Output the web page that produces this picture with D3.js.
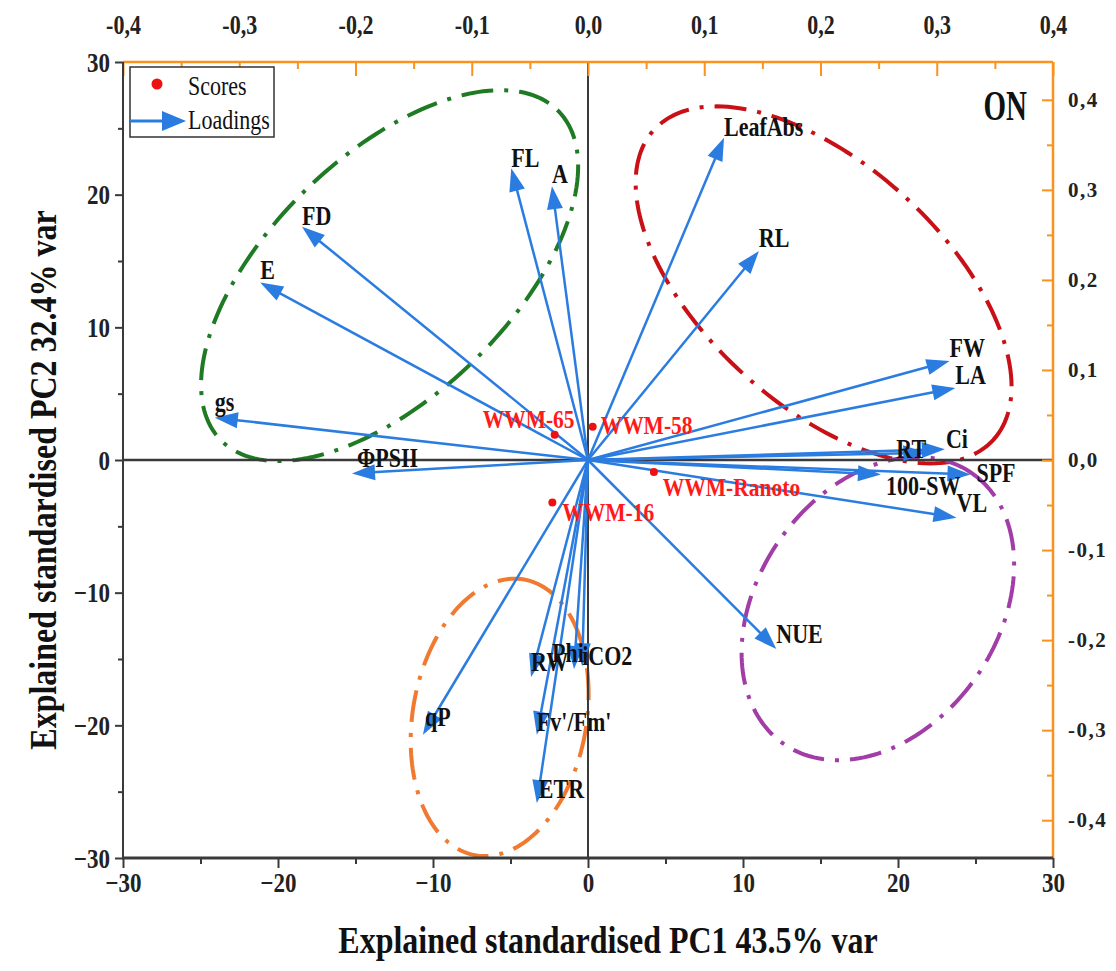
<!DOCTYPE html>
<html>
<head>
<meta charset="utf-8">
<script src="https://cdn.jsdelivr.net/npm/d3@7"></script>
<style>
body { margin: 0; background: #fff; }
svg text { font-family: "Liberation Serif", "Times New Roman", serif; }
.tall { transform-box: fill-box; transform-origin: center; transform: scaleY(1.2); }
.taller { transform-box: fill-box; transform-origin: center; transform: scaleY(1.45); }
</style>
</head>
<body>
<svg id="chart"></svg>
<script>
const width = 1116, height = 971;

// scores (PC1, PC2 in score units)
const scoreNames = ["WWM-65", "WWM-58", "WWM-Ranoto", "WWM-16"];
const scorePC1 = [-2.15, 0.3, 4.25, -2.3];
const scorePC2 = [1.9, 2.5, -0.9, -3.2];
const scoreLabelDx = [-72, 8, 9, 10];
const scoreLabelDy = [-8, 6, 23, 17];

// loadings (PC1, PC2 in loading units)
const loadNames = ["LeafAbs", "RL", "FL", "A", "FD", "E", "gs", "ΦPSII", "FW", "LA", "Ci", "RT",
                   "SPF", "100-SW", "VL", "NUE", "qP", "RW", "Phi", "iCO2", "Fv'/Fm'", "ETR"];
const loadPC1 = [0.117, 0.147, -0.066, -0.031, -0.246, -0.282, -0.321, -0.203, 0.311, 0.316, 0.307, 0.291,
                 0.329, 0.252, 0.317, 0.162, -0.142, -0.049, -0.012, -0.005, -0.044, -0.044];
const loadPC2 = [0.358, 0.232, 0.324, 0.304, 0.259, 0.197, 0.047, -0.015, 0.110, 0.080, 0.012, 0.008,
                 -0.016, -0.016, -0.064, -0.210, -0.305, -0.241, -0.232, -0.229, -0.305, -0.381];
const loadLabelDx = [0, 0, 0, 0, 0, 0, 0, 5, 0, 0, 1, -30, 6, 5, 0, 0, 2, 0, -22, 0, 0, 2];
const loadLabelDy = [-3, -6, -3, -5, -3, -5, -8, -8, -5, -5, -3, 4, 6, 19, -7, -8, -10, -8, -8, -3, -5, -7];

// group ellipses: centre and two conjugate semi-axes (score units)
const ellipseCx = [-12.8, 15.2, 18.7, -5.7];
const ellipseCy = [13.9, 13.2, -11.2, -19.4];
const ellipseU = [[10.91, 12.38], [10.95, -11.68], [6.1, 10.18], [1.57, 10.39]];
const ellipseV = [[5.38, -6.49], [5.21, 6.68], [6.33, -5.19], [5.52, -1.14]];
const ellipseColors = ["#1f7a24", "#c81016", "#a23ca6", "#f07a30"];

// ticks
const scoreTicks = [-30, -20, -10, 0, 10, 20, 30];
const scoreMinor = [-25, -15, -5, 5, 15, 25];
const loadTicks = [-0.4, -0.3, -0.2, -0.1, 0, 0.1, 0.2, 0.3, 0.4];
const loadMinor = [-0.35, -0.25, -0.15, -0.05, 0.05, 0.15, 0.25, 0.35];

const blue = "#2b7ce0";
const orange = "#f7931e";
const dark = "#3a3a3a";

let svg = d3.select("#chart")
  .attr("width", width)
  .attr("height", height);

const x = d3.scaleLinear().domain([-30, 30]).range([123, 1053]);
const y = d3.scaleLinear().domain([-30, 30]).range([858, 62]);
const xL = d3.scaleLinear().domain([-0.4, 0.4]).range([123, 1053]);
const yL = d3.scaleLinear().domain([-0.442, 0.442]).range([858, 62]);

const comma = d => d3.format(".1f")(d).replace(".", ",").replace("−", "-");

// ellipses
const ell = d3.line().curve(d3.curveLinearClosed);
ellipseCx.forEach((cx, i) => {
  const pts = d3.range(0, 2 * Math.PI, Math.PI / 90).map(t => [
    x(cx + ellipseU[i][0] * Math.cos(t) + ellipseV[i][0] * Math.sin(t)),
    y(ellipseCy[i] + ellipseU[i][1] * Math.cos(t) + ellipseV[i][1] * Math.sin(t))
  ]);
  svg.append("path")
    .attr("d", ell(pts))
    .attr("fill", "none")
    .attr("stroke", ellipseColors[i])
    .attr("stroke-width", 4)
    .attr("stroke-dasharray", "32 11 4 11");
});

// zero lines
svg.append("line")
  .attr("x1", x(-30)).attr("x2", x(30)).attr("y1", y(0)).attr("y2", y(0))
  .attr("stroke", dark).attr("stroke-width", 2.5);
svg.append("line")
  .attr("x1", x(0)).attr("x2", x(0)).attr("y1", y(30)).attr("y2", y(-30))
  .attr("stroke", dark).attr("stroke-width", 2);

// loading arrows
function arrow(g, x1, y1, x2, y2, len, half, sw) {
  const dx = x2 - x1, dy = y2 - y1, d = Math.hypot(dx, dy);
  const ux = dx / d, uy = dy / d;
  const bx = x2 - ux * len, by = y2 - uy * len;
  g.append("line")
    .attr("x1", x1).attr("y1", y1).attr("x2", bx + ux * 3).attr("y2", by + uy * 3)
    .attr("stroke", blue).attr("stroke-width", sw);
  g.append("polygon")
    .attr("points", [[x2, y2], [bx - uy * half, by + ux * half], [bx + uy * half, by - ux * half]].join(" "))
    .attr("fill", blue);
}

const arrows = svg.append("g");
loadNames.forEach((n, i) => {
  arrow(arrows, xL(0), yL(0), xL(loadPC1[i]), yL(loadPC2[i]), 23, 8, 2.5);
});

svg.append("g").selectAll("text")
  .data(loadNames)
  .join("text")
  .attr("class", "tall")
  .attr("x", (d, i) => xL(loadPC1[i]) + loadLabelDx[i])
  .attr("y", (d, i) => yL(loadPC2[i]) + loadLabelDy[i])
  .attr("font-size", 22)
  .attr("font-weight", "bold")
  .attr("fill", "#111")
  .text(d => d);

// scores
svg.append("g").selectAll("circle")
  .data(scoreNames)
  .join("circle")
  .attr("cx", (d, i) => x(scorePC1[i]))
  .attr("cy", (d, i) => y(scorePC2[i]))
  .attr("r", 4)
  .attr("fill", "#ee1111");

svg.append("g").selectAll("text")
  .data(scoreNames)
  .join("text")
  .attr("class", "tall")
  .attr("x", (d, i) => x(scorePC1[i]) + scoreLabelDx[i])
  .attr("y", (d, i) => y(scorePC2[i]) + scoreLabelDy[i])
  .attr("font-size", 21.5)
  .attr("font-weight", "bold")
  .attr("fill", "#ff1a1a")
  .text(d => d);

// axes
function styleAxis(g, color, size) {
  g.select(".domain").remove();
  g.selectAll(".tick line").attr("stroke", color).attr("stroke-width", 2);
  g.selectAll(".tick text")
    .attr("class", "tall")
    .attr("font-family", "Liberation Serif")
    .attr("font-size", size)
    .attr("font-weight", "bold")
    .attr("fill", "#222");
}

svg.append("g")
  .attr("transform", `translate(0, ${y(-30)})`)
  .call(d3.axisBottom(x).tickValues(scoreTicks).tickSize(10).tickPadding(6).tickFormat(d3.format("d")))
  .call(g => styleAxis(g, dark, 23));
svg.append("g")
  .attr("transform", `translate(0, ${y(-30)})`)
  .call(d3.axisBottom(x).tickValues(scoreMinor).tickSize(6).tickFormat(""))
  .call(g => styleAxis(g, dark, 23));

svg.append("g")
  .attr("transform", `translate(${x(-30)}, 0)`)
  .call(d3.axisLeft(y).tickValues(scoreTicks).tickSize(8).tickPadding(5).tickFormat(d3.format("d")))
  .call(g => styleAxis(g, dark, 23));
svg.append("g")
  .attr("transform", `translate(${x(-30)}, 0)`)
  .call(d3.axisLeft(y).tickValues(scoreMinor).tickSize(5).tickFormat(""))
  .call(g => styleAxis(g, dark, 23));

svg.append("g")
  .attr("transform", `translate(0, ${y(30)})`)
  .call(d3.axisTop(xL).tickValues(loadTicks).tickSizeInner(-14).tickSizeOuter(0).tickPadding(30).tickFormat(comma))
  .call(g => styleAxis(g, orange, 22));
svg.append("g")
  .attr("transform", `translate(0, ${y(30)})`)
  .call(d3.axisTop(xL).tickValues(loadMinor).tickSizeInner(-7).tickSizeOuter(0).tickFormat(""))
  .call(g => styleAxis(g, orange, 22));

svg.append("g")
  .attr("transform", `translate(${x(30)}, 0)`)
  .call(d3.axisRight(yL).tickValues(loadTicks).tickSizeInner(-11).tickSizeOuter(0).tickPadding(15).tickFormat(comma))
  .call(g => styleAxis(g, orange, 21))
  .call(g => g.selectAll(".tick text").attr("class", null).attr("letter-spacing", 1.5));
svg.append("g")
  .attr("transform", `translate(${x(30)}, 0)`)
  .call(d3.axisRight(yL).tickValues(loadMinor).tickSizeInner(-6).tickSizeOuter(0).tickFormat(""))
  .call(g => styleAxis(g, orange, 21));

// frame
svg.append("line").attr("x1", x(-30)).attr("x2", x(30)).attr("y1", y(30)).attr("y2", y(30))
  .attr("stroke", orange).attr("stroke-width", 2.5);
svg.append("line").attr("x1", x(30)).attr("x2", x(30)).attr("y1", y(30)).attr("y2", y(-30))
  .attr("stroke", orange).attr("stroke-width", 2.5);
svg.append("line").attr("x1", x(-30)).attr("x2", x(-30)).attr("y1", y(30)).attr("y2", y(-30))
  .attr("stroke", dark).attr("stroke-width", 2);
svg.append("line").attr("x1", x(-30) - 1).attr("x2", x(30)).attr("y1", y(-30)).attr("y2", y(-30))
  .attr("stroke", dark).attr("stroke-width", 3);

// axis titles
svg.append("text")
  .attr("class", "tall")
  .attr("x", (x(-30) + x(30)) / 2 + 20)
  .attr("y", 951)
  .attr("text-anchor", "middle")
  .attr("font-size", 32)
  .attr("font-weight", "bold")
  .attr("fill", "#111")
  .text("Explained standardised PC1 43.5% var");

svg.append("g")
  .attr("transform", `translate(54, ${(y(30) + y(-30)) / 2 + 20}) rotate(-90)`)
  .append("text")
  .attr("class", "tall")
  .attr("text-anchor", "middle")
  .attr("font-size", 32)
  .attr("font-weight", "bold")
  .attr("fill", "#111")
  .text("Explained standardised PC2 32.4% var");

// panel tag
svg.append("text")
  .attr("class", "taller")
  .attr("x", 1027)
  .attr("y", 116)
  .attr("text-anchor", "end")
  .attr("font-size", 29)
  .attr("font-weight", "bold")
  .attr("fill", "#111")
  .text("ON");

// legend
const leg = svg.append("g");
leg.append("rect")
  .attr("x", 130).attr("y", 67).attr("width", 144).attr("height", 70)
  .attr("fill", "#fff").attr("stroke", "#333").attr("stroke-width", 1.5);
leg.append("circle").attr("cx", 157).attr("cy", 84).attr("r", 5.5).attr("fill", "#ee1111");
leg.append("text").attr("class", "tall").attr("x", 188).attr("y", 93)
  .attr("font-size", 22).attr("fill", "#111").text("Scores");
arrow(leg, 130, 121, 186, 121, 24, 10, 3);
leg.append("text").attr("class", "tall").attr("x", 188).attr("y", 127)
  .attr("font-size", 22).attr("fill", "#111").text("Loadings");
</script>
</body>
</html>
